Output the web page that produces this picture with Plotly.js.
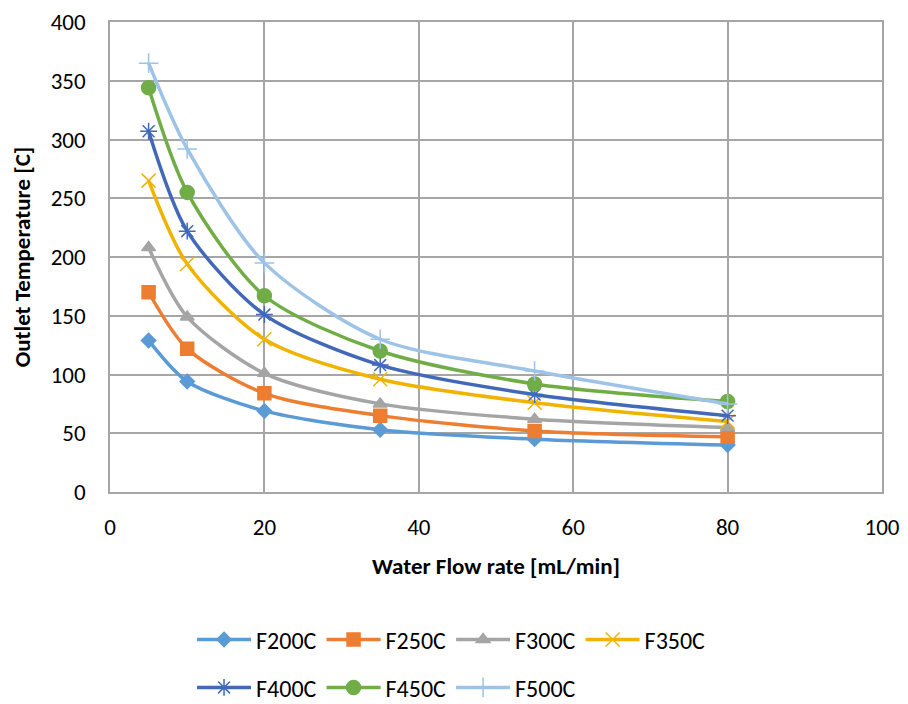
<!DOCTYPE html>
<html><head><meta charset="utf-8">
<script src="https://cdn.plot.ly/plotly-3.0.1.min.js"></script>
<style>body{margin:0;background:#fff}#chart{width:908px;height:704px}</style>
</head><body><div id="chart"></div>
<script>
const flowRate = [5, 10, 20, 35, 55, 80];
const seriesNames = ["F200C","F250C","F300C","F350C","F400C","F450C","F500C"];
const F200C = [129, 94, 69, 53, 45, 40];
const F250C = [170, 122, 84, 65, 52, 47];
const F300C = [208, 149, 101, 75, 62, 55];
const F350C = [265, 194, 130, 96, 76, 60];
const F400C = [307, 222, 151, 108, 83, 65];
const F450C = [344, 255, 167, 120, 92, 77];
const F500C = [365, 292, 195, 130, 103, 75];
const seriesValues = [F200C, F250C, F300C, F350C, F400C, F450C, F500C];
const xTicks = [0, 20, 40, 60, 80, 100];
const yTicks = [0, 50, 100, 150, 200, 250, 300, 350, 400];

const colors = ["#5B9BD5","#ED7D31","#A5A5A5","#F0B400","#4169B8","#70AD47","#9DC3E6"];
const symbols = ["diamond","square","triangle-up","x-thin-open","asterisk-open","circle","cross-thin-open"];
const sizes = [11, 13, 12, 14, 14, 14, 14];

const traces = seriesNames.map((n, i) => ({
  x: flowRate, y: seriesValues[i], name: n, type: "scatter", mode: "lines+markers",
  line: {color: colors[i], width: 3.5, shape: "spline", smoothing: 0.8},
  marker: {symbol: symbols[i], size: sizes[i], color: colors[i], line: {color: colors[i], width: 1.5}},
  legend: i < 4 ? "legend" : "legend2"
}));

const font = {family: "Carlito, Calibri, 'Open Sans', 'Liberation Sans', sans-serif", size: 23, color: "#000"};
const legendFont = Object.assign({}, font, {size: 24});
const layout = {
  width: 908, height: 704,
  margin: {l: 110, r: 26, t: 22, b: 212},
  paper_bgcolor: "#fff", plot_bgcolor: "#fff",
  font: font,
  showlegend: true,
  xaxis: {
    range: [0, 100], tickvals: xTicks, ticktext: xTicks.map(String), automargin: false,
    showgrid: true, gridcolor: "#a6a6a6", gridwidth: 1.5,
    showline: true, linecolor: "#a6a6a6", linewidth: 1.5, mirror: true,
    zeroline: false, ticks: "", ticklabelstandoff: 14, tickfont: font,
    title: {text: "<b>Water Flow rate [mL/min]</b>", font: font, standoff: 18}
  },
  yaxis: {
    range: [0, 400], tickvals: yTicks, ticktext: yTicks.map(String), automargin: false,
    showgrid: true, gridcolor: "#a6a6a6", gridwidth: 1.5,
    showline: true, linecolor: "#a6a6a6", linewidth: 1.5, mirror: true,
    zeroline: false, ticks: "", ticklabelstandoff: 18, tickfont: font,
    title: {text: "<b>Outlet Temperature [C]</b>", font: font, standoff: 14}
  },
  legend: {orientation: "h", xref: "container", yref: "container", x: 0.2115, xanchor: "left", y: 0.091, yanchor: "middle",
    font: legendFont, itemwidth: 54, tracegroupgap: 0, bgcolor: "rgba(0,0,0,0)"},
  legend2: {orientation: "h", xref: "container", yref: "container", x: 0.2115, xanchor: "left", y: 0.023, yanchor: "middle",
    font: legendFont, itemwidth: 54, tracegroupgap: 0, bgcolor: "rgba(0,0,0,0)"}
};
Plotly.newPlot("chart", traces, layout, {displayModeBar: false});
</script></body></html>
